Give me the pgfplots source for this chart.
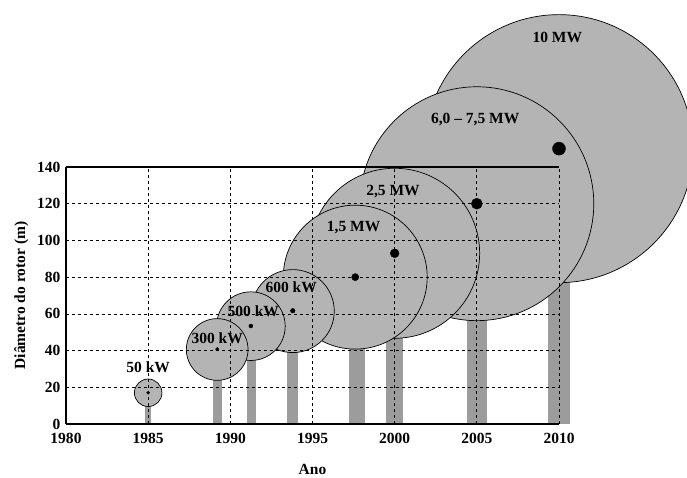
\documentclass[border=0pt]{standalone}
\usepackage{fontspec}
\setmainfont{Liberation Serif}
\usepackage{pgfplots}
\usepackage{pgfplotstable}
\pgfplotsset{compat=1.18}

\definecolor{circgray}{RGB}{180,180,180}
\definecolor{bargray}{RGB}{156,156,156}

% rotor circles: centre (ano, altura) and radius in y units, largest first
\pgfplotstableread{
x        y      r
2010     150    73
2005     120    63.7
2000     93     46.3
1997.6   80     39.2
1993.8   61.5   22.6
1991.25  53.3   18.7
1989.2   40.6   16.8
1985     17     7.5
}\rotores

% hub dots, radius in pt
\pgfplotstableread{
x        y      d
2010     150    6.5
2005     120    5.5
2000     93     4.4
1997.6   80     3.6
1993.8   61.7   2.3
1991.25  53.4   2.0
1989.2   40.8   1.7
1985     17     1.5
}\cubos

\newcommand{\lbl}{\bfseries\fontsize{15.5}{18}\selectfont}

\begin{document}
\begin{tikzpicture}
\begin{axis}[
  at={(66pt,54pt)}, anchor=south west,
  scale only axis, width=493pt, height=257pt,
  xmin=1980, xmax=2010, ymin=0, ymax=140,
  clip=false, clip marker paths=true, axis on top,
  axis x line=box, axis y line=left,
  axis line style={line width=1.6pt, -},
  xtick={1980,1985,1990,1995,2000,2005,2010},
  xticklabels={1980,1985,1990,1995,2000,\raisebox{-3pt}{2005},2010},
  ytick={0,20,...,140},
  major tick length=0pt,
  grid=major,
  grid style={black, dashed, line width=0.7pt},
  /pgf/number format/assume math mode=true,
  /pgf/number format/set thousands separator={},
  ticklabel style={font=\lbl},
  xticklabel style={yshift=-6pt},
  yticklabel style={xshift=-2pt},
  xlabel={Ano}, ylabel={Diâmetro do rotor (m)},
  label style={font=\lbl},
  xlabel style={yshift=-13pt},
  ylabel style={yshift=2pt},
]
% towers
\addplot[ycomb, bargray, line width=6pt]  coordinates {(1985,17)};
\addplot[ycomb, bargray, line width=9pt]  coordinates {(1989.2,40)};
\addplot[ycomb, bargray, line width=9pt]  coordinates {(1991.28,53)};
\addplot[ycomb, bargray, line width=11pt] coordinates {(1993.77,61)};
\addplot[ycomb, bargray, line width=16pt] coordinates {(1997.7,80)};
\addplot[ycomb, bargray, line width=17pt] coordinates {(2000,93)};
\addplot[ycomb, bargray, line width=20pt] coordinates {(2005,120)};
\addplot[ycomb, bargray, line width=22pt] coordinates {(2010,150)};
% rotors
\addplot[scatter, only marks, mark=*, point meta=\thisrow{r},
  visualization depends on={\thisrow{r}*257/140 \as \rad},
  scatter/use mapped color={draw=black, fill=circgray},
  scatter/@pre marker code/.append style={/tikz/mark size=\rad},
  mark options={line width=0.7pt}]
  table[x=x, y=y] {\rotores};
% hubs
\addplot[scatter, only marks, mark=*, point meta=\thisrow{d},
  visualization depends on={\thisrow{d} \as \drad},
  scatter/use mapped color={draw=black, fill=black},
  scatter/@pre marker code/.append style={/tikz/mark size=\drad}]
  table[x=x, y=y] {\cubos};
% power labels
\node[font=\lbl] at (axis cs:1985,31) {50 kW};
\node[font=\lbl] at (axis cs:1989.2,46.8) {300 kW};
\node[font=\lbl] at (axis cs:1991.4,61.5) {500 kW};
\node[font=\lbl] at (axis cs:1993.7,74.6) {600 kW};
\node[font=\lbl] at (axis cs:1997.5,106.8) {1,5 MW};
\node[font=\lbl] at (axis cs:1999.9,126.4) {2,5 MW};
\node[font=\lbl] at (axis cs:2004.9,166.1) {6,0 – 7,5 MW};
\node[font=\lbl] at (axis cs:2009.9,210.8) {10 MW};
\end{axis}
\pgfresetboundingbox
\useasboundingbox (0,0) rectangle (687pt,478pt);
\end{tikzpicture}
\end{document}
